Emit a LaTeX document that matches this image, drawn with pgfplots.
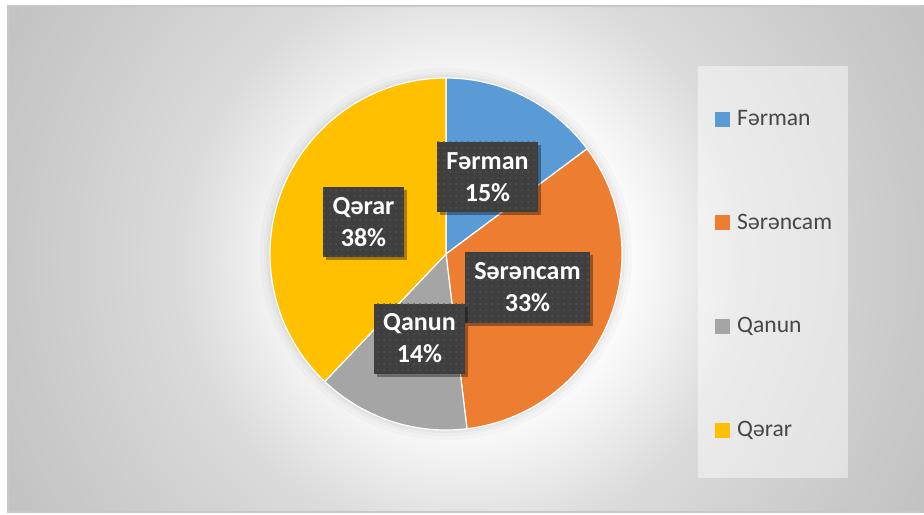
\documentclass[border=0pt]{standalone}
\usepackage{fontspec}
\setmainfont{Carlito}
\usepackage{pgfplots}
\usepackage{pgfplotstable}
\pgfplotsset{compat=1.18}
\usetikzlibrary{patterns,shadows}
\definecolor{cF}{HTML}{5B9BD5}
\definecolor{cS}{HTML}{ED7D31}
\definecolor{cQ}{HTML}{A5A5A5}
\definecolor{cR}{HTML}{FFC000}
\definecolor{lblgray}{HTML}{3F3F3F}
\definecolor{legtext}{HTML}{474747}
\pgfdeclareradialshading{bgshade}{\pgfpoint{0bp}{0bp}}{color(0bp)=(white); color(7bp)=(white); color(9.4bp)=(black!5); color(13.4bp)=(black!14); color(20.8bp)=(black!21); color(25bp)=(black!24); color(50bp)=(black!24)}
% share of each category (percent)
\pgfplotstableread{
name value
Ferman 14.8
Serencam 33.3
Qanun 14.0
Qerar 37.9
}\piedata
\pgfplotstablegetelem{0}{value}\of\piedata\let\vA\pgfplotsretval
\pgfplotstablegetelem{1}{value}\of\piedata\let\vB\pgfplotsretval
\pgfplotstablegetelem{2}{value}\of\piedata\let\vC\pgfplotsretval
\pgfplotstablegetelem{3}{value}\of\piedata\let\vD\pgfplotsretval
\pgfmathsetmacro\aA{90-3.6*\vA}
\pgfmathsetmacro\aB{\aA-3.6*\vB}
\pgfmathsetmacro\aC{\aB-3.6*\vC}
\pgfmathsetmacro\aD{\aC-3.6*\vD}
\begin{document}
\begin{tikzpicture}[
  lbl/.style={fill=lblgray, text=white, font=\fontsize{13}{16}\selectfont\bfseries,
    align=center, inner xsep=4.6pt, inner ysep=0pt, minimum height=35pt,
    drop shadow={shadow xshift=1.5pt, shadow yshift=-1.5pt, opacity=0.35, fill=black},
    postaction={pattern=dots, pattern color=black!68}},
  slice/.style={draw=white, line width=0.6pt, line join=round}]
\begin{axis}[hide axis, scale only axis, width=462pt, height=257pt,
  xmin=0, xmax=924, ymin=0, ymax=514, clip=false,
  legend image code/.code={\fill[#1] (0pt,-3.5pt) rectangle (7pt,3.5pt);},
  legend style={at={(axis cs:715,408)}, anchor=north west, draw=none, fill=none,
    font=\fontsize{11.8}{14}\selectfont, text=legtext, row sep=38.6pt, inner sep=0pt,
    /tikz/every odd column/.append style={column sep=1.5pt}},
  legend cell align=left]
% background
\fill[white] (axis cs:0,0) rectangle (axis cs:924,514);
\begin{scope}
\clip (axis cs:8,2) rectangle (axis cs:924,508);
\shade[shading=bgshade] (axis cs:466,255) circle[radius=265pt];
\end{scope}
\draw[black!22, line width=0.8pt] (axis cs:923,2) -- (axis cs:8,2) -- (axis cs:8,508) -- (axis cs:923,508);
% legend panel
\fill[white, opacity=0.45] (axis cs:698,36) rectangle (axis cs:848,448);
% soft glow around pie
\fill[black, opacity=0.02] (axis cs:446,260) circle[radius=93pt];
\fill[black, opacity=0.025] (axis cs:446,260) circle[radius=91pt];
\fill[black, opacity=0.035] (axis cs:446,260) circle[radius=89.5pt];
% slices
\fill[cF, slice] (axis cs:446,260) -- ++(90:88pt) arc[start angle=90, end angle=\aA, radius=88pt] -- cycle;
\fill[cS, slice] (axis cs:446,260) -- ++(\aA:88pt) arc[start angle=\aA, end angle=\aB, radius=88pt] -- cycle;
\fill[cQ, slice] (axis cs:446,260) -- ++(\aB:88pt) arc[start angle=\aB, end angle=\aC, radius=88pt] -- cycle;
\fill[cR, slice] (axis cs:446,260) -- ++(\aC:88pt) arc[start angle=\aC, end angle=\aD, radius=88pt] -- cycle;
% data labels
\node[lbl] at (axis cs:487.5,337) {Fərman\\15\%};
\node[lbl] at (axis cs:527.5,226.5) {Sərəncam\\33\%};
\node[lbl] at (axis cs:419.5,175.5) {Qanun\\14\%};
\node[lbl] at (axis cs:363.5,292) {Qərar\\38\%};
% legend
\addlegendimage{cF}\addlegendentry{Fərman}
\addlegendimage{cS}\addlegendentry{Sərəncam}
\addlegendimage{cQ}\addlegendentry{Qanun}
\addlegendimage{cR}\addlegendentry{Qərar}
\end{axis}
\end{tikzpicture}
\end{document}
